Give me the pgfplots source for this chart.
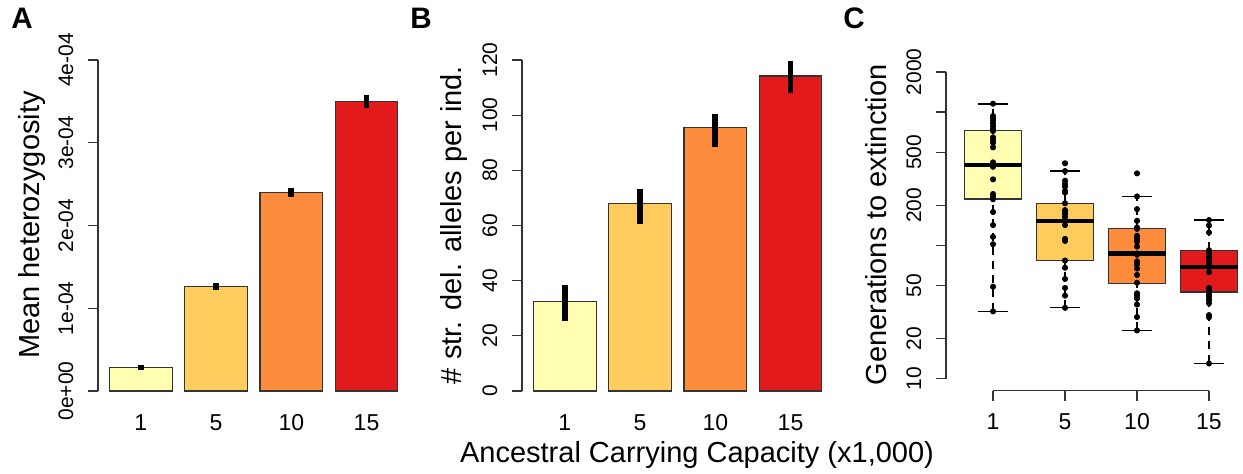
\documentclass[border=0pt]{standalone}
\usepackage{pgfplots}
\pgfplotsset{compat=1.18}
\usepackage{fontspec}
\setmainfont{Liberation Sans}

\definecolor{c1}{HTML}{FFFFB2}
\definecolor{c2}{HTML}{FECC5C}
\definecolor{c3}{HTML}{FD8D3C}
\definecolor{c4}{HTML}{E31A1C}

\newcommand{\ytfont}{\fontsize{10.5}{12}\selectfont}
\newcommand{\xtfont}{\fontsize{11.5}{13}\selectfont}
\newcommand{\labfont}{\fontsize{14.5}{17}\selectfont}

\pgfplotsset{
  rstyle/.style={
    scale only axis, clip=false,
    axis x line=bottom, axis y line=left,
    axis line style={-, line width=0.6pt, black!80},
    x axis line style={draw=none},
    xtick style={draw=none},
    ytick style={line width=0.6pt, black!80},
    tick align=outside, major tick length=5pt,
    xtick={1,2,3,4}, xticklabels={1,5,10,15},
    xticklabel style={font=\xtfont, anchor=base, yshift=-15pt},
    yticklabel style={font=\ytfont, rotate=90, anchor=base, yshift=7.5pt},
    scaled y ticks=false,
  },
  bar/.style={ybar, bar width=0.8333, bar shift=0pt, fill=#1, draw=black!80, line width=0.6pt,
    error bars/.cd, y dir=both, y explicit, error mark=none,
    error bar style={line width=2.8pt, black, line cap=butt}},
}

% box: position, lower whisker, Q1, median, Q3, upper whisker, colour
\newcommand{\rbox}[7]{%
  \addplot[no marks, black, line width=0.6pt, dash pattern=on 4pt off 3pt] coordinates {(#1,#2) (#1,#3)};
  \addplot[no marks, black, line width=0.6pt, dash pattern=on 4pt off 3pt] coordinates {(#1,#5) (#1,#6)};
  \addplot[no marks, black, line width=0.6pt] coordinates {(#1-0.21,#2) (#1+0.21,#2)};
  \addplot[no marks, black, line width=0.6pt] coordinates {(#1-0.21,#6) (#1+0.21,#6)};
  \addplot[no marks, fill=#7, draw=black!80, line width=0.6pt] coordinates
    {(#1-0.4,#3) (#1+0.4,#3) (#1+0.4,#5) (#1-0.4,#5) (#1-0.4,#3)} -- cycle;
  \addplot[no marks, black, line width=2.2pt] coordinates {(#1-0.4,#4) (#1+0.4,#4)};
}

\begin{document}
\begin{tikzpicture}
\useasboundingbox (0,0) rectangle (621.5pt,237pt);

% A
\begin{axis}[rstyle, at={(49pt,41.5pt)}, anchor=south west,
  width=155.5pt, height=165.5pt, xmin=0.43, xmax=4.565, ymin=0, ymax=0.0004,
  ytick={0,0.0001,0.0002,0.0003,0.0004},
  yticklabels={0e+00,1e-04,2e-04,3e-04,4e-04}]
\addplot[bar=c1] coordinates {(1,0.000028) +- (0,0.000003)};
\addplot[bar=c2] coordinates {(2,0.000126) +- (0,0.000004)};
\addplot[bar=c3] coordinates {(3,0.000240) +- (0,0.000005)};
\addplot[bar=c4] coordinates {(4,0.000350) +- (0,0.000008)};
\end{axis}

% B
\begin{axis}[rstyle, at={(261pt,41.5pt)}, anchor=south west,
  width=155.5pt, height=165.5pt, xmin=0.43, xmax=4.565, ymin=0, ymax=120,
  ytick={0,20,40,60,80,100,120},
  yticklabels={0,20,40,60,80,100,120}]
\addplot[bar=c1] coordinates {(1,32.4) += (0,6.0) -= (0,6.9)};
\addplot[bar=c2] coordinates {(2,68.1) += (0,5.3) -= (0,7.6)};
\addplot[bar=c3] coordinates {(3,95.6) += (0,4.9) -= (0,7.2)};
\addplot[bar=c4] coordinates {(4,114.2) += (0,5.4) -= (0,6.0)};
\end{axis}

% C
\begin{axis}[rstyle, at={(473pt,47.65pt)}, anchor=south west,
  width=149.5pt, height=153.35pt, xmin=0.347, xmax=4.5, ymin=10, ymax=2000,
  ymode=log, axis x line=none,
  ytick={10,20,50,100,200,500,1000,2000},
  yticklabels={10,20,50,,200,500,,2000}]
\rbox{1}{32}{223}{403}{725}{1150}{c1}
\rbox{2}{34}{77}{153}{207}{361}{c2}
\rbox{3}{23}{52}{87}{133}{233}{c3}
\rbox{4}{13}{44.7}{69}{92}{155}{c4}
\addplot[only marks, mark=*, mark size=1.3pt, black] coordinates {
  (1,1156) (1,935) (1,898) (1,862) (1,824) (1,787) (1,747) (1,721) (1,647) (1,618)
  (1,589) (1,544) (1,420) (1,403) (1,389) (1,313) (1,243) (1,232) (1,222) (1,178)
  (1,142) (1,116) (1,102) (1,49) (1,32)
  (2,413) (2,361) (2,306) (2,289) (2,276) (2,256) (2,249) (2,207) (2,184) (2,177)
  (2,172) (2,164) (2,155) (2,142) (2,112) (2,108) (2,77) (2,68) (2,56) (2,48)
  (2,42) (2,34)
  (3,347) (3,233) (3,187) (3,153) (3,136) (3,133) (3,118) (3,113) (3,109) (3,107)
  (3,98) (3,87) (3,85) (3,76) (3,72) (3,67) (3,60) (3,52.5) (3,43.7) (3,42)
  (3,40) (3,36) (3,29) (3,23)
  (4,155) (4,141) (4,125) (4,92) (4,87) (4,82) (4,78) (4,73) (4,68.5) (4,63)
  (4,48) (4,46) (4,44.5) (4,42.4) (4,40.8) (4,38.9) (4,36.8) (4,30) (4,28.9) (4,13)
};
\end{axis}

% C x axis (R style, detached)
\begin{axis}[scale only axis, at={(496.5pt,41.65pt)}, anchor=south west,
  width=108pt, height=5pt, xmin=1, xmax=4, ymin=0, ymax=1,
  axis x line=bottom, axis y line=none,
  axis line style={-, line width=0.6pt, black!80},
  xtick style={line width=0.6pt, black!80},
  tick align=outside, major tick length=5pt,
  xtick={1,2,3,4}, xticklabels={1,5,10,15},
  xticklabel style={font=\xtfont, anchor=base, yshift=-14.5pt}]
\end{axis}

% labels
\node[rotate=90, anchor=base, font=\labfont] at (19.5pt,124.5pt) {Mean heterozygosity};
\node[rotate=90, anchor=base, font=\labfont] at (230.5pt,124.5pt) {\# str. del. alleles per ind.};
\node[rotate=90, anchor=base, font=\labfont] at (443pt,124.5pt) {Generations to extinction};
\node[anchor=base, font=\labfont] at (348.5pt,5.5pt) {Ancestral Carrying Capacity (x1,000)};
\node[anchor=base west, inner sep=0pt, font=\fontsize{14.8}{16}\selectfont\bfseries] at (5.5pt,222.5pt) {A};
\node[anchor=base west, inner sep=0pt, font=\fontsize{14.8}{16}\selectfont\bfseries] at (205pt,222.5pt) {B};
\node[anchor=base west, inner sep=0pt, font=\fontsize{14.8}{16}\selectfont\bfseries] at (421.5pt,222.5pt) {C};
\end{tikzpicture}
\end{document}
